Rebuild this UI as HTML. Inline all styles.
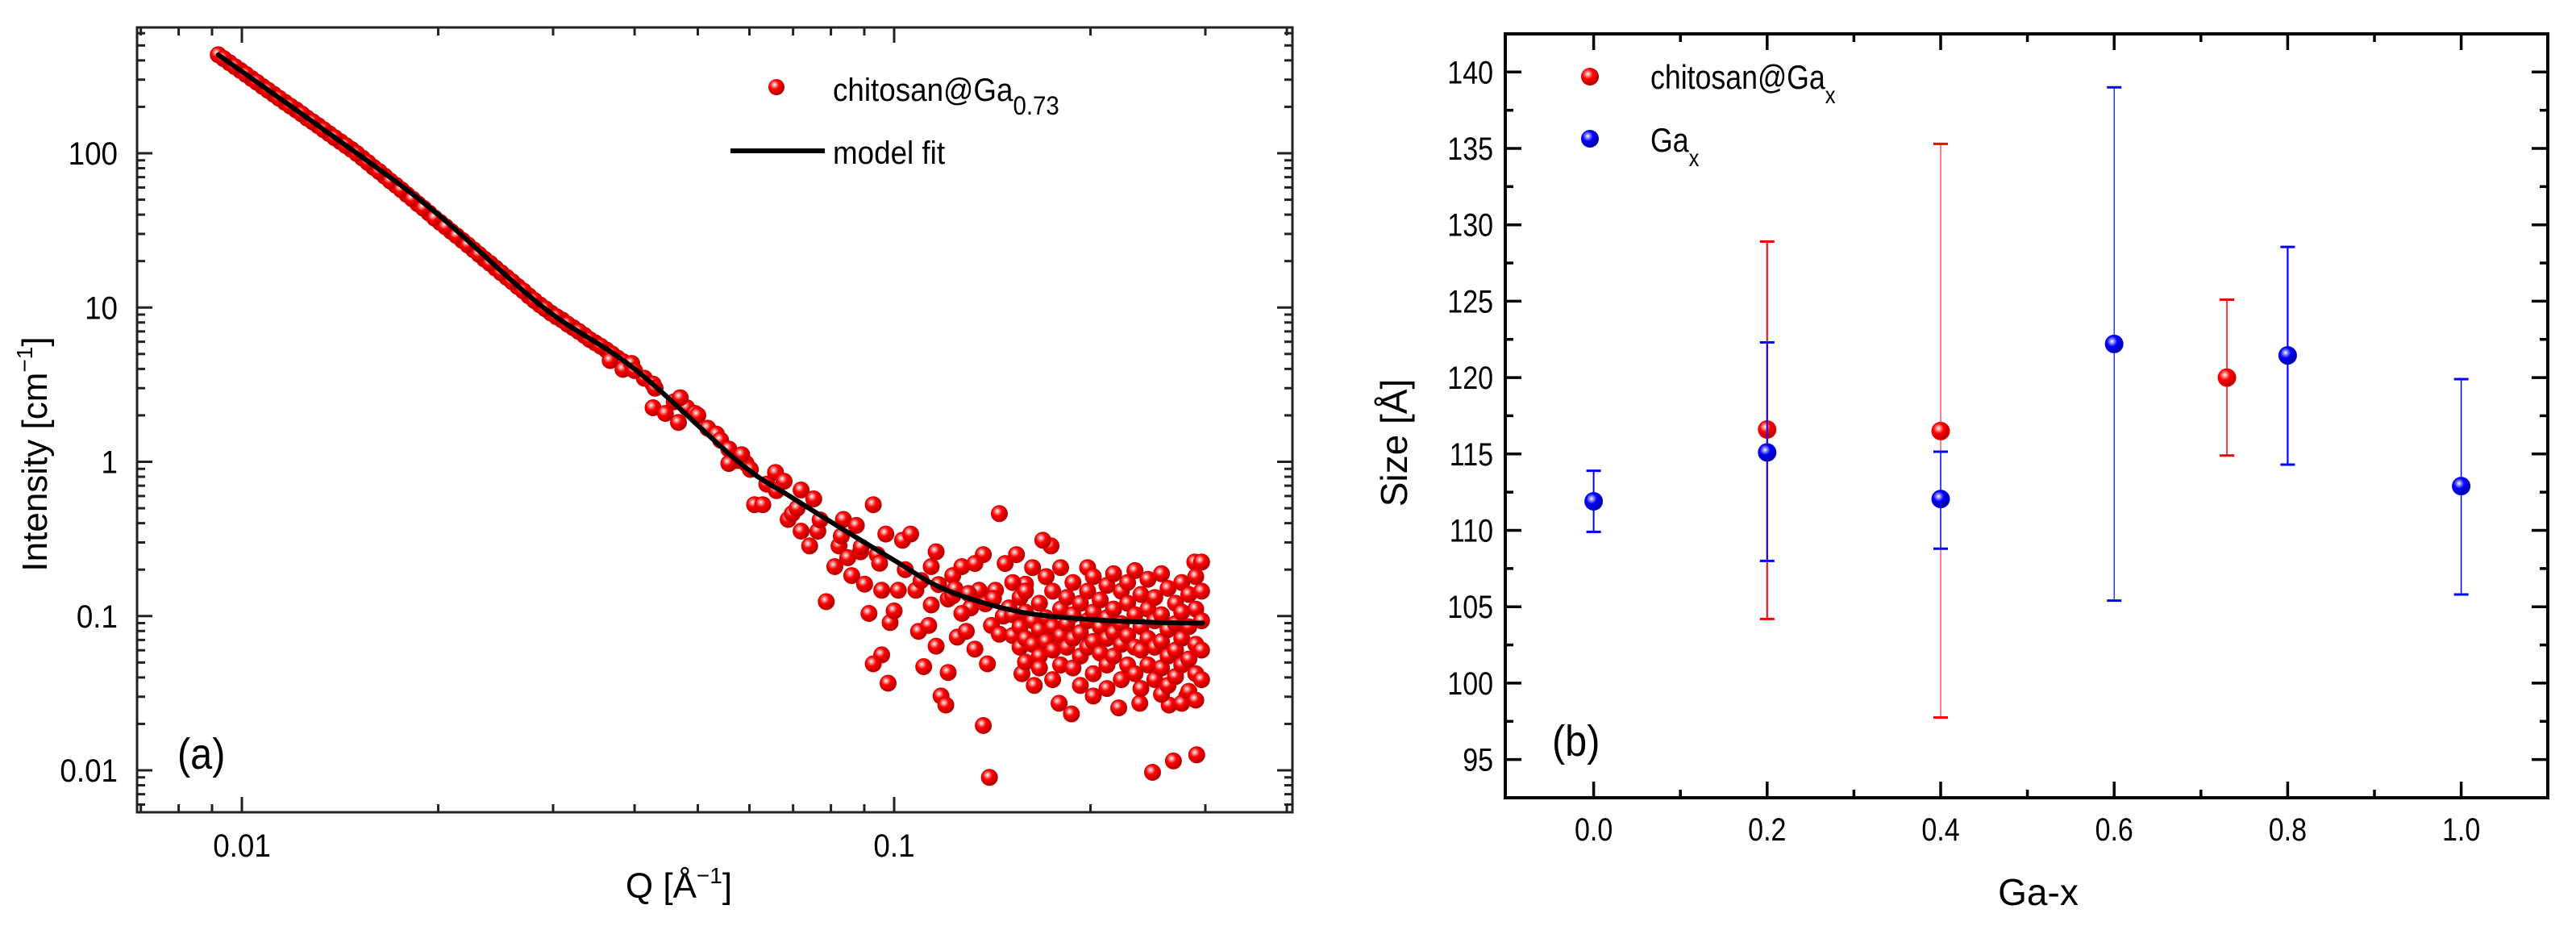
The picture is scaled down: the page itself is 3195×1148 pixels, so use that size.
<!DOCTYPE html>
<html><head><meta charset="utf-8"><style>
html,body{margin:0;padding:0;background:#fff;}
svg{display:block;font-family:"Liberation Sans",Arial,sans-serif;}
</style></head><body>
<svg id="fig" width="3195" height="1148" viewBox="0 0 3195 1148" xmlns="http://www.w3.org/2000/svg">
<defs>
<radialGradient id="gRed" cx="38%" cy="35%" r="65%">
<stop offset="0" stop-color="#ffffff"/><stop offset="0.18" stop-color="#ff9090"/><stop offset="0.45" stop-color="#ff0000"/><stop offset="1" stop-color="#b00000"/>
</radialGradient>
<radialGradient id="gBlue" cx="38%" cy="35%" r="65%">
<stop offset="0" stop-color="#ffffff"/><stop offset="0.18" stop-color="#9090ff"/><stop offset="0.45" stop-color="#0000ff"/><stop offset="1" stop-color="#0000a0"/>
</radialGradient>
<clipPath id="clipA"><rect x="170" y="34" width="1433" height="973"/></clipPath>
</defs>
<g id="panelA"></g>
<g id="panelB"></g>
</svg>
<script>
// ---------- Panel (a) data ----------
var fitQ = [0.0092,0.015,0.02,0.029,0.04,0.0577,0.07,0.1,0.12,0.155,0.2,0.25,0.297];
var fitI = [435,100,40,10,4.0,1.0,0.58,0.23,0.148,0.107,0.095,0.091,0.09];
var dataQ = [
0.00920,0.00957,0.00995,0.01035,0.01076,0.01119,0.01164,0.01211,0.01259,0.01309,0.01361,0.01416,0.01472,0.01531,0.01592,0.01656,0.01722,0.01791,0.01862,0.01936,0.02014,0.02094,0.02178,0.02265,0.02355,0.02449,0.02547,0.02648,0.02754,0.02864,0.02979,0.03097,0.03221,0.03350,0.03483,0.03622,0.03767,0.03917,
0.00938,0.00976,0.01015,0.01055,0.01097,0.01141,0.01187,0.01235,0.01284,0.01335,0.01388,0.01444,0.01501,0.01561,0.01624,0.01689,0.01756,0.01826,0.01899,0.01975,0.02054,0.02136,0.02221,0.02310,0.02402,0.02498,0.02597,0.02701,0.02809,0.02921,0.03038,0.03159,0.03285,0.03416,0.03552,0.03694,0.03842,
0.0367,0.0384,0.0396,0.0414,0.0427,0.0427,0.0446,0.0460,0.0467,0.0481,0.0495,0.0518,0.0534,0.0542,0.0558,0.0575,0.0593,0.0602,0.0558,0.0584,0.040,0.043,0.047,0.050,
0.0611,0.0629,0.0638,0.0658,0.0678,0.0688,0.0698,0.0720,0.0720,0.0742,0.0753,0.0764,0.0787,0.0811,0.0823,0.0836,0.0849,0.0861,0.0875,0.0888,0.0901,0.0915,0.0929,0.0942,0.0957,0.0971,0.0986,0.0957,0.0929,0.0979,0.1015,0.1,0.066,0.071,0.077,0.083,0.089,0.095,
0.103,0.106,0.108,0.109,0.111,0.113,0.114,0.116,0.116,0.118,0.120,0.121,0.121,0.123,0.125,0.127,0.129,0.131,0.133,0.135,0.137,0.137,0.139,0.140,0.141,0.143,0.145,0.145,0.148,0.150,0.133,0.127,0.114,0.123,0.104,0.11,0.117,0.124,0.13,0.138,0.142,0.147,
0.157,0.164,0.174,0.179,0.187,0.202,0.221,0.238,0.249,0.268,0.291,0.289,0.281,0.264,0.169,0.154,0.159,
0.152,0.152,0.152,0.156,0.156,0.156,0.159,0.159,0.159,0.159,0.163,0.163,0.163,0.167,0.167,0.167,0.167,0.171,0.171,0.171,0.175,0.175,0.175,0.175,0.180,0.180,0.180,0.180,0.184,0.184,0.184,0.188,0.188,0.188,0.188,0.193,0.193,0.193,0.193,0.198,0.198,0.198,0.198,0.202,0.202,0.202,0.202,0.207,0.207,0.207,0.212,0.212,0.212,0.212,0.212,0.217,0.217,0.217,0.217,0.223,0.223,0.223,0.223,0.228,0.228,0.228,0.228,0.234,0.234,0.234,0.234,0.239,0.239,0.239,0.239,0.245,0.245,0.245,0.245,0.251,0.251,0.251,0.251,0.257,0.257,0.257,0.257,0.257,0.263,0.263,0.263,0.263,0.270,0.270,0.270,0.270,0.276,0.276,0.276,0.276,0.276,0.283,0.283,0.283,0.283,0.290,0.290,0.290,0.290,0.290,0.296,0.296,0.296,0.296,0.296
];
var dataI = [
435,386,344,305,271,241,214,191,169,151,134,119,106,93,81,71,62,54,47,41,35.6,31.1,27.2,23.7,20.6,18.0,15.7,13.7,11.9,10.4,9.2,8.3,7.4,6.6,5.9,5.3,4.7,4.2,
410,364,324,288,256,227,202,180,160,142,126,112,99.5,87,76,66,58,50.5,44,38,33.3,29.1,25.4,22.1,19.3,16.8,14.7,12.8,11.1,9.8,8.7,7.8,7.0,6.2,5.6,5.0,4.45,
4.53,3.97,4.34,3.48,3.19,2.24,2.06,2.45,1.80,2.24,2.06,1.65,1.51,1.38,1.21,1.02,0.975,0.892,0.975,1.11,3.9,3.0,2.6,2.0,
0.527,0.527,0.716,0.853,0.748,0.423,0.461,0.656,0.355,0.285,0.575,0.355,0.124,0.209,0.285,0.423,0.239,0.183,0.387,0.261,0.161,0.104,0.527,0.250,0.147,0.340,0.0908,0.056,0.049,0.0367,0.147,0.108,0.65,0.50,0.42,0.33,0.28,0.22,
0.310,0.340,0.147,0.0796,0.047,0.0869,0.118,0.261,0.0638,0.0303,0.0265,0.129,0.0431,0.183,0.0730,0.209,0.0796,0.113,0.0611,0.147,0.0195,0.250,0.049,0.0090,0.0869,0.147,0.461,0.0762,0.219,0.113,0.219,0.104,0.209,0.135,0.2,0.17,0.16,0.15,0.14,0.12,0.13,0.10,
0.0423,0.0355,0.285,0.0272,0.0232,0.0303,0.0254,0.0272,0.0097,0.0115,0.0126,0.224,0.0303,0.0265,0.310,0.250,0.161,
0.165,0.102,0.0748,0.132,0.0853,0.0628,0.145,0.106,0.0716,0.0504,0.206,0.0932,0.0656,0.121,0.0816,0.0550,0.0461,0.180,0.0974,0.0685,0.145,0.0853,0.0601,0.0387,0.206,0.111,0.0748,0.0482,0.132,0.0892,0.0628,0.165,0.102,0.0716,0.0461,0.121,0.0781,0.0550,0.0355,0.206,0.145,0.0932,0.0628,0.180,0.106,0.0685,0.0423,0.127,0.0853,0.0575,0.158,0.0974,0.0716,0.0482,0.0339,0.188,0.111,0.0781,0.0550,0.145,0.0892,0.0656,0.0387,0.165,0.121,0.0748,0.0482,0.197,0.102,0.0628,0.0423,0.138,0.0853,0.0601,0.0339,0.173,0.111,0.0716,0.0482,0.132,0.0932,0.0628,0.0387,0.188,0.102,0.0685,0.0461,0.0311,0.151,0.0816,0.0550,0.0355,0.121,0.0892,0.0601,0.0405,0.165,0.106,0.0716,0.0482,0.0272,0.138,0.0853,0.0526,0.0325,0.180,0.111,0.0656,0.0423,0.0285,0.224,0.145,0.0932,0.0601,0.0387
];
var aYTicks = [100,10,1,0.1,0.01];
var aYLabels = ["100","10","1","0.1","0.01"];
var aXTicks = [0.01,0.1];
var aXLabels = ["0.01","0.1"];

// ---------- Panel (b) data ----------
var bRedX = [0.2,0.4,0.73];
var bRedY = [116.6,116.5,120.0];
var bRedHi = [128.9,135.3,125.1];
var bRedLo = [104.2,97.75,114.9];
var bRedW = [2,1,1.5];
var bBlueX = [0.0,0.2,0.4,0.6,0.8,1.0];
var bBlueY = [111.9,115.1,112.05,122.2,121.45,112.9];
var bBlueHi = [113.9,122.3,115.15,139.0,128.55,119.9];
var bBlueLo = [109.9,108.0,108.8,105.4,114.3,105.8];
var bBlueW = [2,2,1.5,1.2,2.2,1.5];
var bYTicks = [95,100,105,110,115,120,125,130,135,140];
var bXTicks = [0.0,0.2,0.4,0.6,0.8,1.0];
var bXLabels = ["0.0","0.2","0.4","0.6","0.8","1.0"];

var NS = "http://www.w3.org/2000/svg";
function mk(tag, attrs, parent){var e=document.createElementNS(NS,tag);for(var k in attrs)e.setAttribute(k,attrs[k]);parent.appendChild(e);return e;}
function txt(parent,x,y,str,size,anchor,sx){var t=mk("text",{transform:"translate("+x+","+y+") scale("+(sx||0.92)+",1)","font-size":size,"text-anchor":anchor||"start",fill:"#000"},parent);t.textContent=str;return t;}

// ===== Panel A =====
var A=document.getElementById("panelA");
var aL=170,aR=1603,aT=34,aB=1007;
function xa(q){return 300+(Math.log10(q)+2)*809;}
function ya(v){return 190+(2-Math.log10(v))*191.25;}
var gPts=mk("g",{"clip-path":"url(#clipA)"},A);


for(var i=0;i<dataQ.length;i++){
  var c=mk("circle",{cx:xa(dataQ[i]).toFixed(1),cy:ya(dataI[i]).toFixed(1),r:10,fill:"url(#gRed)",stroke:"#d00000","stroke-width":1},gPts);
  
  
}
var fp=[];for(var i=0;i<fitQ.length;i++)fp.push([xa(fitQ[i]),ya(fitI[i])]);
var d="M"+fp[0][0].toFixed(1)+","+fp[0][1].toFixed(1);
for(var i=0;i<fp.length-1;i++){var p0=fp[Math.max(0,i-1)],p1=fp[i],p2=fp[i+1],p3=fp[Math.min(fp.length-1,i+2)];
 d+=" C"+(p1[0]+(p2[0]-p0[0])/6).toFixed(1)+","+(p1[1]+(p2[1]-p0[1])/6).toFixed(1)+" "+(p2[0]-(p3[0]-p1[0])/6).toFixed(1)+","+(p2[1]-(p3[1]-p1[1])/6).toFixed(1)+" "+p2[0].toFixed(1)+","+p2[1].toFixed(1);}
var fl=mk("path",{d:d,fill:"none",stroke:"#000","stroke-width":6,"stroke-linecap":"round"},A);


var fa=mk("rect",{x:aL,y:aT,width:aR-aL,height:aB-aT,fill:"none",stroke:"#222","stroke-width":3},A);


var tk=mk("g",{stroke:"#222","stroke-width":3},A);


var decs=[0.001,0.01,0.1,1,10,100,1000];
for(var di=0;di<decs.length;di++){for(var m=1;m<10;m++){var v=decs[di]*m;var y=ya(v);if(y<aT+2||y>aB-2)continue;var L=(m==1)?19:10;
 mk("line",{x1:aL,y1:y,x2:aL+L,y2:y},tk);mk("line",{x1:aR,y1:y,x2:aR-L,y2:y},tk);}}
for(var di=0;di<decs.length;di++){for(var m=1;m<10;m++){var v=decs[di]*m;var x=xa(v);if(x<aL+2||x>aR-2)continue;var L=(m==1)?19:10;
 mk("line",{x1:x,y1:aB,x2:x,y2:aB-L},tk);mk("line",{x1:x,y1:aT,x2:x,y2:aT+L},tk);}}
for(var i=0;i<aYTicks.length;i++){var t=txt(A,146,ya(aYTicks[i])+14,aYLabels[i],40,"end");
 
 }
for(var i=0;i<aXTicks.length;i++){var t=txt(A,xa(aXTicks[i]),1062,aXLabels[i],40,"middle");
 
 }
// ===== Panel B =====
var B=document.getElementById("panelB");
var bL=1867,bR=3160,bT=42,bB=989;
function xb(v){return 2407+(v-0.4)*1076;}
function yb(v){return 89.3+(140-v)*18.94;}
var fb=mk("rect",{x:bL,y:bT,width:bR-bL,height:bB-bT,fill:"none",stroke:"#000","stroke-width":4},B);


var tb=mk("g",{stroke:"#000","stroke-width":3.5},B);


for(var v=92.5;v<=142.5;v+=2.5){var y=yb(v);if(y<bT+3||y>bB-3)continue;var L=(Math.abs(v%5)<0.01)?20:10;
 mk("line",{x1:bL,y1:y,x2:bL+L,y2:y},tb);mk("line",{x1:bR,y1:y,x2:bR-L,y2:y},tb);}
for(var k=0;k<=12;k++){var v=-0.1+k*0.1;var x=xb(v);if(x<bL+3||x>bR-3)continue;var L=(k%2==1)?20:10;
 mk("line",{x1:x,y1:bB,x2:x,y2:bB-L},tb);mk("line",{x1:x,y1:bT,x2:x,y2:bT+L},tb);}
for(var i=0;i<bYTicks.length;i++){var t=txt(B,1852,yb(bYTicks[i])+14,String(bYTicks[i]),40,"end",0.85);
 
 }
for(var i=0;i<bXTicks.length;i++){var t=txt(B,xb(bXTicks[i]),1042,bXLabels[i],40,"middle",0.85);
 
 }
function series(X,Y,Hi,Lo,W,col,grad,name){
 var g=mk("g",{},B);
 
 
 for(var i=0;i<X.length;i++){var x=xb(X[i]);
  var eb=mk("g",{stroke:col,"stroke-width":W[i]},g);
  
  
  mk("line",{x1:x,y1:yb(Hi[i]),x2:x,y2:yb(Lo[i])},eb);
  mk("line",{x1:x-9,y1:yb(Hi[i]),x2:x+9,y2:yb(Hi[i]),"stroke-width":3},eb);
  mk("line",{x1:x-9,y1:yb(Lo[i]),x2:x+9,y2:yb(Lo[i]),"stroke-width":3},eb);}
 for(var i=0;i<X.length;i++){
  var c=mk("circle",{cx:xb(X[i]),cy:yb(Y[i]),r:11,fill:grad,stroke:col,"stroke-width":1},g);
  
  }
}
series(bRedX,bRedY,bRedHi,bRedLo,bRedW,"#ff0000","url(#gRed)","series-chitosan-ga-x");
series(bBlueX,bBlueY,bBlueHi,bBlueLo,bBlueW,"#0000ff","url(#gBlue)","series-ga-x");
</script>
<svg style="position:absolute;left:0;top:0" width="3195" height="1148" viewBox="0 0 3195 1148" font-family="Liberation Sans, Arial, sans-serif">
<g>
<circle cx="963" cy="108" r="10" fill="url(#gRed)"/>
<text transform="translate(1033,125) scale(0.92,1)" font-size="40">chitosan@Ga<tspan font-size="32" dy="17">0.73</tspan></text>
<line x1="906" y1="187" x2="1023" y2="187" stroke="#000" stroke-width="6"/>
<text transform="translate(1033,203) scale(0.92,1)" font-size="40">model fit</text>
</g>
<text x="220" y="953" font-size="54" transform="translate(22,0) scale(0.9,1)">(a)</text>
<text x="842" y="1113" font-size="44" text-anchor="middle">Q [Å<tspan font-size="28" dy="-18">−1</tspan><tspan dy="18">]</tspan></text>
<text transform="translate(58,563) rotate(-90)" font-size="44" text-anchor="middle">Intensity [cm<tspan font-size="28" dy="-18">−1</tspan><tspan dy="18">]</tspan></text>
<g>
<circle cx="1972" cy="95" r="11" fill="url(#gRed)"/>
<text transform="translate(2047,110) scale(0.85,1)" font-size="42">chitosan@Ga<tspan font-size="30" dy="18">x</tspan></text>
<circle cx="1972" cy="172" r="11" fill="url(#gBlue)"/>
<text transform="translate(2047,188) scale(0.85,1)" font-size="42">Ga<tspan font-size="30" dy="18">x</tspan></text>
</g>
<text transform="translate(1925,937) scale(0.9,1)" font-size="54">(b)</text>
<text x="2528" y="1122" font-size="46" text-anchor="middle">Ga-x</text>
<text transform="translate(1745,549) rotate(-90)" font-size="46" text-anchor="middle">Size [Å]</text>
</svg>
</body></html>
